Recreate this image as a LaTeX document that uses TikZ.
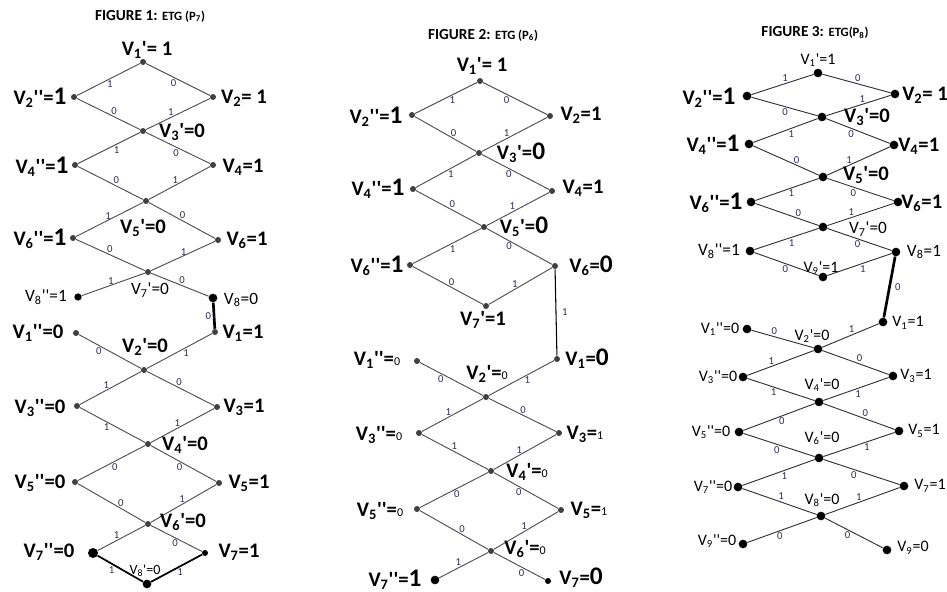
\documentclass[tikz,border=0pt]{standalone}
\usepackage{fontspec}
\setmainfont{Carlito}
\definecolor{linec}{HTML}{505050}
\definecolor{dotc}{HTML}{404040}
\definecolor{elc}{HTML}{2E2E55}
\newcommand\myq{\textquotesingle}
\newcommand\myqq{\textquotesingle\textquotesingle}
\newcommand\VL[3]{V\textsubscript{#1}#2=#3}
\newcommand\bigone[1]{{\fontsize{19}{19}\selectfont #1}}
\tikzset{
  dot/.style={circle, fill=dotc, inner sep=0pt, minimum size=4.5pt},
  bdot/.style={circle, fill=black, inner sep=0pt, minimum size=6.5pt},
  ln/.style={draw=linec, line width=0.7pt},
  ln3/.style={draw=black!80, line width=0.7pt},
  thk/.style={draw=black, line width=2pt},
  el/.style={font=\fontsize{8}{9}\selectfont, text=elc, inner sep=1.2pt},
  lb/.style={font=\bfseries\fontsize{15.5}{17}\selectfont, inner sep=0pt},
  lbs/.style={font=\fontsize{13}{14}\selectfont, inner sep=0pt},
  lbt/.style={font=\fontsize{12}{13}\selectfont, inner sep=0pt},
  ttl/.style={font=\bfseries\fontsize{11.5}{13}\selectfont, inner sep=0pt},
}
\begin{document}
\begin{tikzpicture}[x=0.75pt,y=-0.75pt]
\useasboundingbox[fill=white] (0,0) rectangle (947,592);

% ================= FIGURE 1 =================
\node[ttl] (t1) at (150,16) {FIGURE 1: {\fontsize{9.5}{11}\selectfont ETG (P\textsubscript{7})}};
\node[dot] (f1a1) at (143,62) {};
\node[dot] (f1l2) at (74,97) {};
\node[dot] (f1r2) at (213,97) {};
\node[dot] (f1a3) at (143,131) {};
\node[dot] (f1l4) at (75,165) {};
\node[dot] (f1r4) at (213,165) {};
\node[dot] (f1a5) at (146,201) {};
\node[dot] (f1l6) at (73,238) {};
\node[dot] (f1r6) at (218,240) {};
\node[dot] (f1a7) at (148,272) {};
\node[bdot,minimum size=5.5pt] (f1l8) at (78,297) {};
\node[bdot] (f1r8) at (213,298) {};
\node[dot] (f1r1) at (215,332) {};
\node[dot] (f1l1) at (76,333) {};
\node[dot] (f1a2) at (144,370) {};
\node[dot] (f1l3) at (77,406) {};
\node[dot] (f1r3) at (217,407) {};
\node[dot] (f1a4) at (148,444) {};
\node[dot] (f1l5) at (75,482) {};
\node[dot] (f1r5) at (219,483) {};
\node[dot] (f1a6) at (148,524) {};
\node[bdot,minimum size=7.5pt] (f1l7) at (93,553) {};
\node[bdot,minimum size=4.5pt] (f1r7) at (205,553) {};
\node[bdot] (f1a8) at (147,584) {};

\draw[ln] (f1a1) -- node[el,pos=.48,below]{1} (f1l2);
\draw[ln] (f1a1) -- node[el,pos=.43,below]{0} (f1r2);
\draw[ln] (f1l2) -- node[el,pos=.59,above]{0} (f1a3);
\draw[ln] (f1a3) -- node[el,pos=.39,above]{1} (f1r2);
\draw[ln] (f1a3) -- node[el,pos=.38,below]{1} (f1l4);
\draw[ln] (f1a3) -- node[el,pos=.47,below]{0} (f1r4);
\draw[ln] (f1l4) -- node[el,pos=.59,above]{0} (f1a5);
\draw[ln] (f1a5) -- node[el,pos=.43,above]{1} (f1r4);
\draw[ln] (f1a5) -- node[el,pos=.52,above,inner sep=0pt]{1} (f1l6);
\draw[ln] (f1a5) -- node[el,pos=.51,above]{0} (f1r6);
\draw[ln] (f1l6) -- node[el,pos=.49,above]{0} (f1a7);
\draw[ln] (f1a7) -- node[el,pos=.51,above,inner sep=0pt]{1} (f1r6);
\draw[ln] (f1a7) -- node[el,pos=.54,above,inner sep=0pt]{1} (f1l8);
\draw[ln] (f1a7) -- node[el,pos=.54,above]{0} (f1r8);
\draw[thk] (f1r8) -- node[el,left]{0} (f1r1);
\draw[ln] (f1l1) -- node[el,pos=.32,below]{0} (f1a2);
\draw[ln] (f1a2) -- node[el,pos=.6,below]{1} (f1r1);
\draw[ln] (f1a2) -- node[el,pos=.57,above]{1} (f1l3);
\draw[ln] (f1a2) -- node[el,pos=.48,above]{0} (f1r3);
\draw[ln] (f1l3) -- node[el,pos=.41,below]{1} (f1a4);
\draw[ln] (f1a4) -- node[el,pos=.42,above]{1} (f1r3);
\draw[ln] (f1a4) -- node[el,pos=.45,below]{0} (f1l5);
\draw[ln] (f1a4) -- node[el,pos=.44,below]{0} (f1r5);
\draw[ln] (f1l5) -- node[el,pos=.64,above]{0} (f1a6);
\draw[ln] (f1a6) -- node[el,pos=.48,above]{1} (f1r5);
\draw[ln] (f1a6) -- node[el,pos=.6,above]{1} (f1l7);
\draw[ln] (f1a6) -- node[el,pos=.47,below]{0} (f1r7);
\draw[thk,line width=1.3pt] (f1l7) -- node[el,pos=.31,below]{1} (f1a8);
\draw[thk,line width=1.3pt] (f1a8) -- node[el,pos=.57,below]{1} (f1r7);

\node[lb] (f1ta1) at (147,50) {\VL{1}{\myq}{ 1}};
\node[lb] (f1tl2) at (40,98) {\VL{2}{\myqq}{\bigone{1}}};
\node[lb] (f1tr2) at (244,98) {\VL{2}{}{ 1}};
\node[lb] (f1ta3) at (182,132) {\VL{3}{\myq}{0}};
\node[lb] (f1tl4) at (42,167) {\VL{4}{\myqq}{\bigone{1}}};
\node[lb] (f1tr4) at (243,167) {\VL{4}{}{1}};
\node[lb] (f1ta5) at (143,228) {\VL{5}{\myq}{0}};
\node[lb] (f1tl6) at (40,239) {\VL{6}{\myqq}{\bigone{1}}};
\node[lb] (f1tr6) at (247,240) {\VL{6}{}{1}};
\node[lbs] (f1ta7) at (150,290) {\VL{7}{\myq}{0}};
\node[lbs] (f1tl8) at (46,297) {\VL{8}{\myqq}{1}};
\node[lbs] (f1tr8) at (241,300) {\VL{8}{}{0}};
\node[lb] (f1tl1) at (38,333) {\VL{1}{\myqq}{0}};
\node[lb] (f1tr1) at (243,333) {\VL{1}{}{1}};
\node[lb] (f1ta2) at (145,347) {\VL{2}{\myq}{0}};
\node[lb] (f1tl3) at (40,408) {\VL{3}{\myqq}{0}};
\node[lb] (f1tr3) at (244,407) {\VL{3}{}{1}};
\node[lb] (f1ta4) at (185,445) {\VL{4}{\myq}{0}};
\node[lb] (f1tl5) at (40,483) {\VL{5}{\myqq}{0}};
\node[lb] (f1tr5) at (249,483) {\VL{5}{}{1}};
\node[lb] (f1ta6) at (183,522) {\VL{6}{\myq}{0}};
\node[lb] (f1tl7) at (49,552) {\VL{7}{\myqq}{0}};
\node[lb] (f1tr7) at (239,552) {\VL{7}{}{1}};
\node[lbt,font=\fontsize{10.5}{11}\selectfont] (f1ta8) at (145,571) {\VL{8}{\myq}{0}};

% ================= FIGURE 2 =================
\node[ttl] (t2) at (483,35) {FIGURE 2: {\fontsize{9.5}{11}\selectfont ETG (P\textsubscript{6})}};
\node[dot] (f2a1) at (480,81) {};
\node[dot] (f2l2) at (412,115) {};
\node[dot] (f2r2) at (550,116) {};
\node[dot] (f2a3) at (479,153) {};
\node[dot] (f2l4) at (413,189) {};
\node[dot] (f2r4) at (552,191) {};
\node[dot] (f2a5) at (484,227) {};
\node[dot] (f2l6) at (410,265) {};
\node[dot] (f2r6) at (555,266) {};
\node[dot] (f2a7) at (486,306) {};
\node[dot] (f2r1) at (557,359) {};
\node[dot] (f2l1) at (417,361) {};
\node[dot] (f2a2) at (486,397) {};
\node[dot] (f2l3) at (419,433) {};
\node[dot] (f2r3) at (559,433) {};
\node[dot] (f2a4) at (491,471) {};
\node[dot] (f2l5) at (417,509) {};
\node[dot] (f2r5) at (561,510) {};
\node[dot] (f2a6) at (491,551) {};
\node[bdot] (f2l7) at (435,580) {};
\node[bdot,minimum size=4.5pt] (f2r7) at (548,581) {};

\draw[ln] (f2a1) -- node[el,pos=.4,below]{1} (f2l2);
\draw[ln] (f2a1) -- node[el,pos=.37,below]{0} (f2r2);
\draw[ln] (f2l2) -- node[el,pos=.63,above]{0} (f2a3);
\draw[ln] (f2a3) -- node[el,pos=.38,above]{1} (f2r2);
\draw[ln] (f2a3) -- node[el,pos=.42,below]{1} (f2l4);
\draw[ln] (f2a3) -- node[el,pos=.4,below]{0} (f2r4);
\draw[ln] (f2l4) -- node[el,pos=.56,above]{0} (f2a5);
\draw[ln] (f2a5) -- node[el,pos=.41,above]{1} (f2r4);
\draw[ln] (f2a5) -- node[el,pos=.42,below]{1} (f2l6);
\draw[ln] (f2a5) -- node[el,pos=.34,below]{0} (f2r6);
\draw[ln] (f2l6) -- node[el,pos=.55,above]{0} (f2a7);
\draw[ln] (f2a7) -- node[el,pos=.41,above]{1} (f2r6);
\draw[draw=black,line width=0.8pt] (f2r6) -- node[el,right=3pt]{1} (f2r1);
\draw[ln] (f2l1) -- node[el,pos=.33,below]{0} (f2a2);
\draw[ln] (f2a2) -- node[el,pos=.59,below]{1} (f2r1);
\draw[ln] (f2a2) -- node[el,pos=.57,above]{1} (f2l3);
\draw[ln] (f2a2) -- node[el,pos=.51,above]{0} (f2r3);
\draw[ln] (f2l3) -- node[el,pos=.49,above]{1} (f2a4);
\draw[ln] (f2a4) -- node[el,pos=.41,above]{1} (f2r3);
\draw[ln] (f2a4) -- node[el,pos=.46,below]{0} (f2l5);
\draw[ln] (f2a4) -- node[el,pos=.39,below]{0} (f2r5);
\draw[ln] (f2l5) -- node[el,pos=.62,above]{0} (f2a6);
\draw[ln] (f2a6) -- node[el,pos=.47,above]{1} (f2r5);
\draw[ln] (f2a6) -- node[el,pos=.61,above]{1} (f2l7);
\draw[ln] (f2a6) -- node[el,pos=.54,below]{0} (f2r7);

\node[lb] (f2ta1) at (482,66) {\VL{1}{\myq}{ 1}};
\node[lb] (f2tl2) at (376,117) {\VL{2}{\myqq}{\bigone{1}}};
\node[lb] (f2tr2) at (581,115) {\VL{2}{}{1}};
\node[lb] (f2ta3) at (521,153) {\VL{3}{\myq}{\bigone{0}}};
\node[lb] (f2tl4) at (378,189) {\VL{4}{\myqq}{\bigone{1}}};
\node[lb] (f2tr4) at (583,188) {\VL{4}{}{1}};
\node[lb] (f2ta5) at (524,227) {\VL{5}{\myq}{\bigone{0}}};
\node[lb] (f2tl6) at (377,266) {\VL{6}{\myqq}{\bigone{1}}};
\node[lb] (f2tr6) at (591,266) {\VL{6}{}{\bigone{0}}};
\node[lb] (f2ta7) at (483,320) {\VL{7}{\myq}{1}};
\node[lb] (f2tl1) at (377,360) {\VL{1}{\myqq}{\mdseries\small 0}};
\node[lb] (f2tr1) at (587,359) {\VL{1}{}{\bigone{0}}};
\node[lb] (f2ta2) at (487,374) {\VL{2}{\myq}{\mdseries\small 0}};
\node[lb] (f2tl3) at (379,435) {\VL{3}{\myqq}{\mdseries\small 0}};
\node[lb] (f2tr3) at (585,434) {\VL{3}{}{\mdseries\small 1}};
\node[lb] (f2ta4) at (527,472) {\VL{4}{\myq}{\mdseries\small 0}};
\node[lb] (f2tl5) at (380,511) {\VL{5}{\myqq}{\mdseries\small 0}};
\node[lb] (f2tr5) at (589,510) {\VL{5}{}{\mdseries\small 1}};
\node[lb] (f2ta6) at (525,549) {\VL{6}{\myq}{\mdseries\small 0}};
\node[lb] (f2tl7) at (395,580) {\VL{7}{\myqq}{\bigone{1}}};
\node[lb] (f2tr7) at (581,578) {\VL{7}{}{\bigone{0}}};

% ================= FIGURE 3 =================
\node[ttl] (t3) at (815,33) {FIGURE 3: {\fontsize{9.5}{11}\selectfont ETG(P\textsubscript{8})}};
\tikzset{d3/.style={circle, fill=black, inner sep=0pt, minimum size=6.5pt}}
\node[d3] (f3a1) at (818,73) {};
\node[d3] (f3l2) at (747,96) {};
\node[d3] (f3r2) at (895,94) {};
\node[d3] (f3a3) at (822,117) {};
\node[d3] (f3l4) at (749,144) {};
\node[d3] (f3r4) at (894,145) {};
\node[d3] (f3a5) at (823,177) {};
\node[d3] (f3l6) at (751,202) {};
\node[d3] (f3r6) at (898,202) {};
\node[d3] (f3a7) at (823,227) {};
\node[d3] (f3l8) at (750,251) {};
\node[d3] (f3r8) at (896,252) {};
\node[d3] (f3a9) at (823,277) {};
\node[d3] (f3r1) at (883,322) {};
\node[d3] (f3l1) at (747,329) {};
\node[d3] (f3a2) at (818,349) {};
\node[d3] (f3l3) at (743,377) {};
\node[d3] (f3r3) at (893,376) {};
\node[d3] (f3a4) at (819,402) {};
\node[d3] (f3l5) at (739,432) {};
\node[d3] (f3r5) at (899,431) {};
\node[d3] (f3a6) at (819,458) {};
\node[d3] (f3l7) at (738,487) {};
\node[d3] (f3r7) at (904,486) {};
\node[d3] (f3a8) at (821,516) {};
\node[d3] (f3l9) at (743,544) {};
\node[d3] (f3r9) at (887,550) {};

\draw[ln3] (f3a1) -- node[el,pos=.46,above]{1} (f3l2);
\draw[ln3] (f3a1) -- node[el,pos=.52,above]{0} (f3r2);
\draw[ln3] (f3l2) -- node[el,pos=.51,below]{0} (f3a3);
\draw[ln3] (f3a3) -- node[el,pos=.56,above]{1} (f3r2);
\draw[ln3] (f3a3) -- node[el,pos=.41,below]{1} (f3l4);
\draw[ln3] (f3a3) -- node[el,pos=.39,below]{0} (f3r4);
\draw[ln3] (f3l4) -- node[el,pos=.66,above]{0} (f3a5);
\draw[ln3] (f3a5) -- node[el,pos=.35,above]{1} (f3r4);
\draw[ln3] (f3a5) -- node[el,pos=.43,below]{1} (f3l6);
\draw[ln3] (f3a5) -- node[el,pos=.39,below]{0} (f3r6);
\draw[ln3] (f3l6) -- node[el,pos=.68,above]{0} (f3a7);
\draw[ln3] (f3a7) -- node[el,pos=.36,above]{1} (f3r6);
\draw[ln3] (f3a7) -- node[el,pos=.42,below]{1} (f3l8);
\draw[ln3] (f3a7) -- node[el,pos=.47,below]{0} (f3r8);
\draw[ln3] (f3l8) -- node[el,pos=.48,below]{0} (f3a9);
\draw[ln3] (f3a9) -- node[el,pos=.55,below]{1} (f3r8);
\draw[thk] (f3r8) -- node[el,right=2pt]{0} (f3r1);
\draw[ln3] (f3l1) -- node[el,pos=.37,above]{0} (f3a2);
\draw[ln3] (f3a2) -- node[el,pos=.52,above]{1} (f3r1);
\draw[ln3] (f3a2) -- node[el,pos=.64,above]{1} (f3l3);
\draw[ln3] (f3a2) -- node[el,pos=.56,above]{0} (f3r3);
\draw[ln3] (f3l3) -- node[el,pos=.39,below]{1} (f3a4);
\draw[ln3] (f3a4) -- node[el,pos=.53,below]{1} (f3r3);
\draw[ln3] (f3a4) -- node[el,pos=.46,below]{0} (f3l5);
\draw[ln3] (f3a4) -- node[el,pos=.59,above]{0} (f3r5);
\draw[ln3] (f3l5) -- node[el,pos=.47,below]{0} (f3a6);
\draw[ln3] (f3a6) -- node[el,pos=.61,below]{1} (f3r5);
\draw[ln3] (f3a6) -- node[el,pos=.42,below]{1} (f3l7);
\draw[ln3] (f3a6) -- node[el,pos=.4,below]{0} (f3r7);
\draw[ln3] (f3l7) -- node[el,pos=.52,above]{1} (f3a8);
\draw[ln3] (f3a8) -- node[el,pos=.45,above]{1} (f3r7);
\draw[ln3] (f3a8) -- node[el,pos=.53,below]{0} (f3l9);
\draw[ln3] (f3a8) -- node[el,pos=.39,below]{0} (f3r9);

\node[lbt] (f3ta1) at (818,60) {\VL{1}{\myq}{1}};
\node[lb] (f3tl2) at (709,98) {\VL{2}{\myqq}{\bigone{1}}};
\node[lb,anchor=west] (f3tr2) at (902,95) {\VL{2}{}{ 1}};
\node[lb] (f3ta3) at (867,117) {\VL{3}{\myq}{0}};
\node[lb] (f3tl4) at (713,145) {\VL{4}{\myqq}{\bigone{1}}};
\node[lb,anchor=west] (f3tr4) at (898,146) {\VL{4}{}{1}};
\node[lb] (f3ta5) at (866,175) {\VL{5}{\myq}{0}};
\node[lb] (f3tl6) at (716,203) {\VL{6}{\myqq}{\bigone{1}}};
\node[lb,anchor=west] (f3tr6) at (901,203) {\VL{6}{}{1}};
\node[lbs] (f3ta7) at (868,229) {\VL{7}{\myq}{0}};
\node[lbs] (f3tl8) at (719,251) {\VL{8}{\myqq}{1}};
\node[lbs] (f3tr8) at (924,252) {\VL{8}{}{1}};
\node[lbt] (f3ta9) at (821,268) {\VL{9}{\myq}{1}};
\node[lbt] (f3tr1) at (908,323) {\VL{1}{}{1}};
\node[lbt] (f3tl1) at (720,329) {\VL{1}{\myqq}{0}};
\node[lbt] (f3ta2) at (812,336) {\VL{2}{\myq}{0}};
\node[lbt] (f3tl3) at (718,377) {\VL{3}{\myqq}{0}};
\node[lbt] (f3tr3) at (916,376) {\VL{3}{}{1}};
\node[lbt] (f3ta4) at (822,385) {\VL{4}{\myq}{0}};
\node[lbt] (f3tl5) at (711,432) {\VL{5}{\myqq}{0}};
\node[lbt] (f3tr5) at (924,431) {\VL{5}{}{1}};
\node[lbt] (f3ta6) at (822,438) {\VL{6}{\myq}{0}};
\node[lbt] (f3tl7) at (713,487) {\VL{7}{\myqq}{0}};
\node[lbt] (f3tr7) at (930,486) {\VL{7}{}{1}};
\node[lbt] (f3ta8) at (822,500) {\VL{8}{\myq}{0}};
\node[lbt] (f3tl9) at (717,541) {\VL{9}{\myqq}{0}};
\node[lbt] (f3tr9) at (913,548) {\VL{9}{}{0}};
\end{tikzpicture}
\end{document}
